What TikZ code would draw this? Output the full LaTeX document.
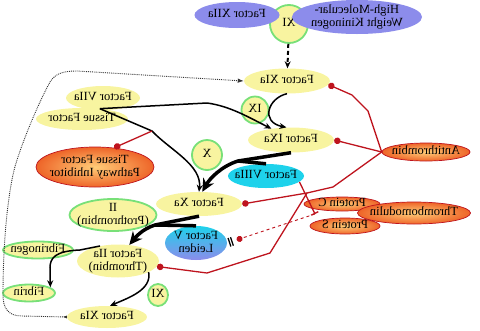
\documentclass[tikz,border=0pt]{standalone}
\usepackage{fontspec}
\setmainfont{Liberation Serif}
\usepackage{graphicx}
\usetikzlibrary{arrows.meta,shapes.geometric}
\definecolor{amarillo}{RGB}{248,244,160}
\definecolor{verdeclaro}{RGB}{120,224,120}
\definecolor{lavanda}{RGB}{140,140,235}
\definecolor{cian}{RGB}{30,210,235}
\definecolor{rojooscuro}{RGB}{190,20,30}
\definecolor{naranjaclaro}{RGB}{255,205,120}
\definecolor{naranjafuerte}{RGB}{238,100,40}
% el dibujo original sale en espejo
\newcommand{\espejo}[1]{\reflectbox{\begin{tabular}{@{}c@{}}#1\end{tabular}}}
\tikzset{
  nodo/.style={
    ellipse,
    inner xsep=-5pt,
    inner ysep=-2pt,
    font=\fontsize{12.5}{13}\selectfont
  },
  activo/.style={nodo, fill=amarillo},
  zimogeno/.style={nodo, fill=amarillo, draw=verdeclaro, line width=1.8pt},
  contacto/.style={nodo, fill=lavanda},
  cofactor/.style={nodo, fill=cian},
  inhibidor/.style={
    nodo,
    draw=rojooscuro,
    line width=.7pt,
    inner color=naranjaclaro,
    outer color=naranjafuerte
  },
  flecha/.style={-{Stealth[length=7pt,width=6pt]}, line width=1.5pt},
  grueso/.style={-{Stealth[length=13pt,width=12pt]}, line width=3.5pt},
  inhibe/.style={{Circle[length=6.5pt]}-, rojooscuro, line width=1.3pt},
  punteado/.style={densely dotted, line width=.9pt, black!80}
}

\begin{document}
\begin{tikzpicture}[x=1pt, y=-1pt]
\useasboundingbox (0,0) rectangle (480,330);

% contacto
\node[zimogeno, minimum size=38pt] (xi) at (289,24) {\espejo{XI}};
\node[contacto, minimum width=85pt, minimum height=26pt] (fxiia) at (237,15) {\espejo{Factor XIIa}};
\node[contacto, minimum width=130pt, minimum height=34pt] (hmwk) at (357,17) {\espejo{High-Molecular-\\Weight Kininogen}};
\node[activo, minimum width=86pt, minimum height=25pt] (fxia) at (287,81) {\espejo{Factor XIa}};

% via extrinseca
\node[activo, minimum width=74pt, minimum height=24pt] (fviia) at (103,98) {\espejo{Factor VIIa}};
\node[activo, minimum width=92pt, minimum height=22pt] (tf) at (82,119) {\espejo{Tissue Factor}};
\node[zimogeno, minimum size=27pt] (ix) at (255,110) {\espejo{IX}};
\node[activo, minimum width=86pt, minimum height=25pt] (fixa) at (291,140) {\espejo{Factor IXa}};
\node[inhibidor, minimum width=88pt, minimum height=18pt] (at) at (426,152) {\espejo{Antithrombin}};
\node[inhibidor, minimum width=118pt, minimum height=40pt] (tfpi) at (95,167) {\espejo{Tissue Factor\\Pathway Inhibitor}};
\node[zimogeno, minimum size=30pt] (zx) at (207,155) {\espejo{X}};
\node[cofactor, minimum width=76pt, minimum height=24pt] (fviiia) at (266,176) {\espejo{Factor VIIIa}};
\node[activo, minimum width=86pt, minimum height=24pt] (fxa) at (199,204) {\espejo{Factor Xa}};

% via comun
\node[zimogeno, minimum width=80pt, minimum height=32pt] (ii) at (113,215) {\espejo{II\\(Prothrombin)}};
\node[inhibidor, minimum width=76pt, minimum height=14pt] (pc) at (342,204) {\espejo{Protein C}};
\node[inhibidor, minimum width=113pt, minimum height=22pt] (tm) at (414,213) {\espejo{Thrombomodulin}};
\node[inhibidor, minimum width=70pt, minimum height=16pt] (ps) at (345,226) {\espejo{Protein S}};
\node[nodo, top color=cian, bottom color=lavanda, minimum width=62pt, minimum height=34pt] (fvl) at (196,243) {\espejo{Factor V\\Leiden}};
\node[zimogeno, minimum width=70pt, minimum height=17pt] (fibrinogeno) at (38,250) {\espejo{Fibrinogen}};
\node[activo, minimum width=82pt, minimum height=33pt] (fiia) at (118,261) {\espejo{Factor IIa\\(Thrombin)}};
\node[zimogeno, minimum width=52pt, minimum height=17pt] (fibrina) at (29,293) {\espejo{Fibrin}};
\node[zimogeno, minimum width=20pt, minimum height=22pt] (xib) at (158,295) {\espejo{XI}};
\node[activo, minimum width=80pt, minimum height=22pt] (fxiab) at (107,317) {\espejo{Factor XIa}};

\coordinate (dianatf) at (152,131);
\coordinate (unionx) at (238,161);
\coordinate (unionii) at (155,225);
\coordinate (unionat) at (307,193);
\coordinate (pcps) at (315,214);

% flechas negras
\draw[flecha, dashed, dash pattern=on 4pt off 3pt, line width=2pt] (xi) -- (fxia);
\draw[punteado, {Latex[reversed,length=4pt]}-{Latex[length=6pt]}] (fxiab.west) -- (22,316)
  .. controls (8,316) and (3,308) .. (3,295)
  .. controls (3,230) and (10,180) .. (17,160)
  .. controls (25,135) and (40,100) .. (50,82)
  .. controls (55,74) and (62,71) .. (77,71) -- (fxia.west);
\draw[flecha] (fxia.south) .. controls (268,98) and (260,122) .. (fixa.110);
\draw[flecha] (tf.30) -- (207,103) .. controls (230,106) and (250,118) .. (fixa.150);
\draw[flecha] (tf.30) -- (dianatf) .. controls (170,150) and (202,165) .. (fxa.north);
\draw[grueso] (fixa.south) -- (unionx) .. controls (222,166) and (210,178) .. (fxa.75);
\draw[line width=3.5pt] (fviiia.north) -- (unionx);
\draw[grueso] (fxa.south) -- (unionii) .. controls (142,229) and (135,238) .. (fiia.55);
\draw[line width=3.5pt] (fvl.north) -- (unionii);
\draw[flecha] (fiia.140) -- (80,250) .. controls (55,251) and (50,258) .. (50,268) -- (fibrina.15);
\draw[flecha] (fiia.-20) .. controls (152,290) and (128,298) .. (fxiab.75);

% inhibiciones
\draw[inhibe] (fxia.-5) -- (352,95) -- (368,111) -- (at.west);
\draw[inhibe] (fixa.east) -- (at.west);
\draw[inhibe] (fxa.east) -- (unionat) -- (333,187) -- (at.west);
\draw[inhibe] (fiia.-8) -- (207,273) -- (270,253) -- (unionat);
\draw[inhibe] (tfpi.45) -- (dianatf);
\draw[inhibe, -{Bar[width=8pt]}] (fviiia.-10) -- (pcps);
\draw[rojooscuro, line width=.9pt, dashed, -{Circle[length=6pt]}, shorten >=10pt] (pcps) -- (fvl.east);
\path (pcps) -- (fvl.east) node[pos=.96, sloped, inner sep=0pt] (leiden) {\rule{1.3pt}{9pt}\hspace{1.3pt}\rule{1.3pt}{9pt}};
\end{tikzpicture}
\end{document}
